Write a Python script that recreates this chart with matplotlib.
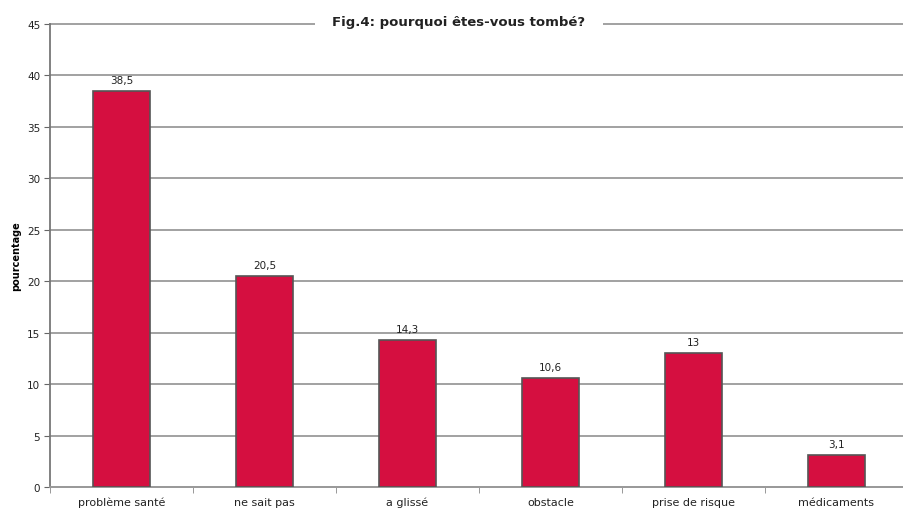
import matplotlib
matplotlib.use("Agg")
import matplotlib.pyplot as plt
import numpy as np

categories = ["problème santé", "ne sait pas", "a glissé", "obstacle",
              "prise de risque", "médicaments"]
values = [38.5, 20.5, 14.3, 10.6, 13, 3.1]
value_labels = ["38,5", "20,5", "14,3", "10,6", "13", "3,1"]
yticks = [0, 5, 10, 15, 20, 25, 30, 35, 40, 45]

plt.rcParams["font.family"] = ["DejaVu Sans"]

fig = plt.figure(figsize=(9.04, 5.10), dpi=100)
ax = fig.add_axes([50 / 904, 22 / 510, 858 / 904, 463 / 510])

x = np.arange(len(categories))
ax.bar(x, values, width=0.40, color="#d50f40", edgecolor="#555555",
       linewidth=1.2, zorder=3)

for xi, v, lab in zip(x, values, value_labels):
    ax.text(xi, v + 0.6, lab, ha="center", va="bottom", fontsize=7.5,
            color="#222222", zorder=4)

ax.set_xlim(-0.5, len(categories) - 0.5)
ax.set_ylim(0, 45)
ax.set_yticks(yticks)
ax.set_yticklabels([str(t) for t in yticks], fontsize=7.5, color="#222222")
ax.yaxis.grid(True, color="#9a9a9a", linewidth=1.3, zorder=0)
ax.set_axisbelow(True)
for gl in ax.get_ygridlines():
    gl.set_clip_on(False)

ax.set_xticks(x)
ax.set_xticklabels(categories, fontsize=8, color="#222222")
ax.tick_params(axis="x", length=0, pad=7)
ax.set_xticks(np.arange(len(categories) + 1) - 0.5, minor=True)
ax.tick_params(axis="x", which="minor", length=4, color="#888888")
ax.tick_params(axis="y", length=4, color="#666666", pad=3)

for side in ["top", "right"]:
    ax.spines[side].set_visible(False)
ax.spines["left"].set_color("#777777")
ax.spines["left"].set_linewidth(1.3)
ax.spines["bottom"].set_color("#9a9a9a")
ax.spines["bottom"].set_linewidth(1.3)

ax.set_ylabel("pourcentage", fontsize=7, fontweight="bold", labelpad=4)

ax.text(2.36, 45.2, "Fig.4: pourquoi êtes-vous tombé?", ha="center",
        va="center", fontsize=9.5, fontweight="bold", color="#222222",
        bbox=dict(facecolor="white", edgecolor="none",
                  boxstyle="square,pad=1.3"),
        zorder=5, clip_on=False)

fig.savefig("out.png", dpi=100, facecolor="white")
